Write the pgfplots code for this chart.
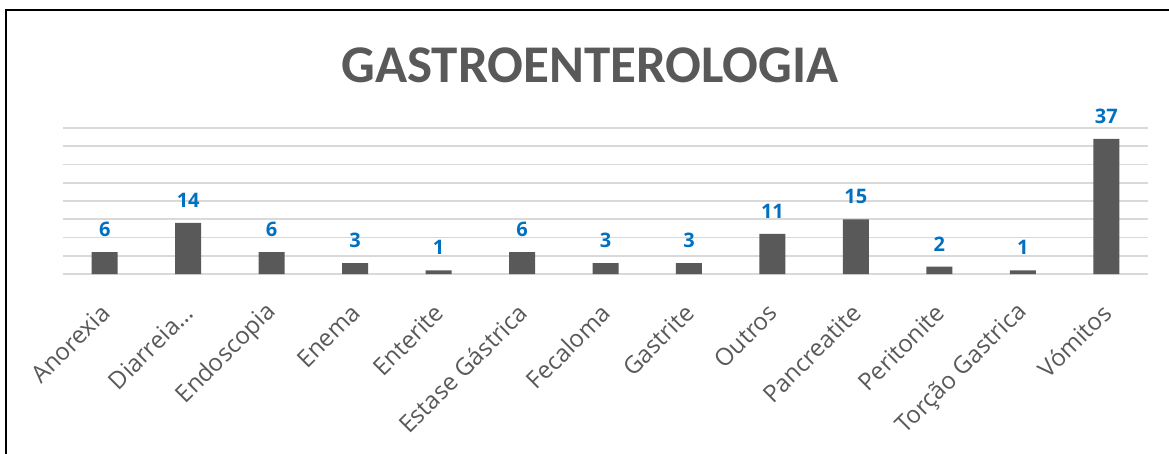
\documentclass[border=0pt]{standalone}
\usepackage{pgfplots}
\pgfplotsset{compat=1.18}
\usepackage{fontspec}
\setmainfont{Open Sans}
\newfontfamily\titlefont{Carlito}
\definecolor{barc}{HTML}{595959}
\definecolor{gridc}{HTML}{D9D9D9}
\definecolor{lblc}{HTML}{0070C0}
\begin{document}
\begin{tikzpicture}
\path[use as bounding box] (0,0) rectangle (1169bp,-454bp);
\draw[line width=2bp,black] (5.5bp,-454bp) -- (5.5bp,-10bp) -- (1169bp,-10bp);
\node[anchor=base,text=barc,font=\titlefont\fontsize{53bp}{60bp}\selectfont\bfseries] at (590bp,-82bp) {GASTROENTEROLOGIA};
\begin{axis}[
  at={(63bp,-274bp)}, anchor=south west,
  scale only axis, width=1085bp, height=146bp,
  ymin=0, ymax=40, xmin=-0.5, xmax=12.5,
  ytick={0,5,...,40}, yticklabels={},
  ymajorgrids, grid style={gridc,line width=1.6bp},
  axis line style={draw=none}, major tick length=0pt,
  xtick={0,...,12},
  xticklabels={Anorexia,Diarreia…,Endoscopia,Enema,Enterite,Estase Gástrica,Fecaloma,Gastrite,Outros,Pancreatite,Peritonite,Torção Gastrica,Vómitos},
  xticklabel style={rotate=45,anchor=east,text=barc,font=\fontsize{24bp}{28bp}\selectfont,inner sep=0pt,yshift=-25bp,xshift=-24bp},
  ybar, bar width=26bp, clip=false,
  nodes near coords,
  every node near coord/.append style={text=lblc,font=\fontsize{20bp}{24bp}\selectfont\bfseries,yshift=12bp,/pgf/number format/assume math mode=true},
]
\addplot[fill=barc,draw=none] coordinates {
  (0,6) (1,14) (2,6) (3,3) (4,1) (5,6) (6,3) (7,3) (8,11) (9,15) (10,2) (11,1) (12,37)
};
\end{axis}
\end{tikzpicture}
\end{document}
